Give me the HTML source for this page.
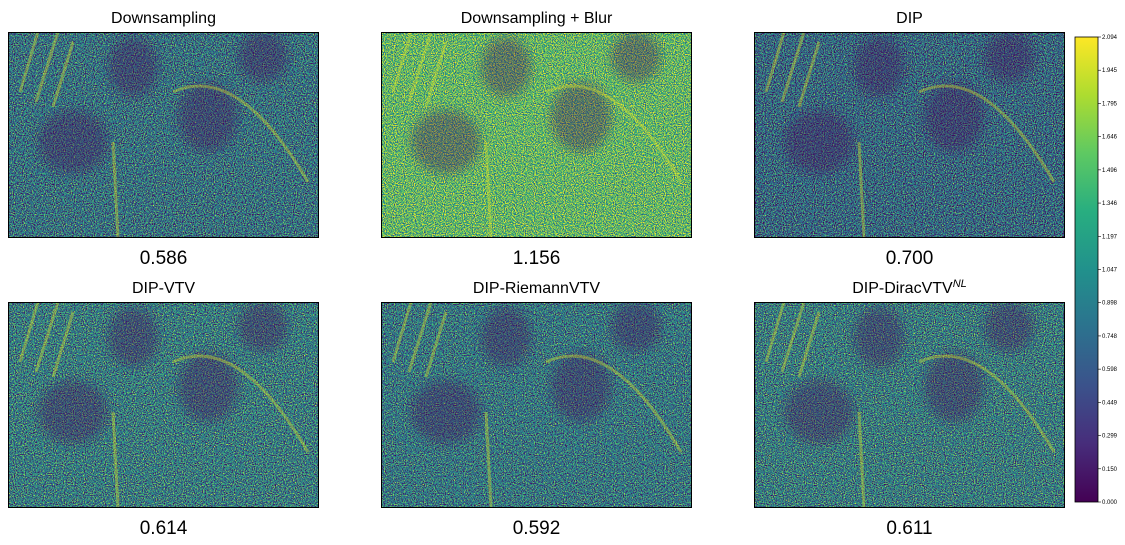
<!DOCTYPE html>
<html><head><meta charset="utf-8"><style>
body{margin:0;background:#fff;width:1125px;height:540px;overflow:hidden;font-family:"Liberation Sans","DejaVu Sans",sans-serif}
</style></head><body>
<svg id="fig" width="1125" height="540" xmlns="http://www.w3.org/2000/svg">
<defs>
<linearGradient id="vir" x1="0" y1="1" x2="0" y2="0">
<stop offset="0" stop-color="#440154"/><stop offset="0.125" stop-color="#472d7b"/><stop offset="0.25" stop-color="#3b528b"/><stop offset="0.375" stop-color="#2c728e"/><stop offset="0.5" stop-color="#21918c"/><stop offset="0.625" stop-color="#28ae80"/><stop offset="0.75" stop-color="#5ec962"/><stop offset="0.875" stop-color="#addc30"/><stop offset="1" stop-color="#fde725"/>
</linearGradient>
<filter id="soft" x="-30%" y="-30%" width="160%" height="160%"><feGaussianBlur stdDeviation="5"/></filter>
</defs>
</svg>
<script>
const titles=["Downsampling","Downsampling + Blur","DIP","DIP-VTV","DIP-RiemannVTV","DIP-DiracVTV"];
const scores=[0.586,1.156,0.700,0.614,0.592,0.611];
const brightness=[-0.12,0.18,-0.16,-0.08,-0.1,-0.08];
const cbTicks=["2.094","1.945","1.795","1.646","1.496","1.346","1.197","1.047","0.898","0.748","0.598","0.449","0.299","0.150","0.000"];
const NS="http://www.w3.org/2000/svg";
const svg=document.getElementById('fig');
const defs=svg.querySelector('defs');
function mk(t,a,p){const e=document.createElementNS(NS,t);for(const k in a)e.setAttribute(k,a[k]);(p||svg).appendChild(e);return e;}
const xs=[8,381,754], ys=[32,302], W=311, H=206;
titles.forEach((t,i)=>{
  const c=i%3,r=Math.floor(i/3),x=xs[c],y=ys[r];
  const f=mk('filter',{id:'f'+i,x:0,y:0,width:1,height:1,'color-interpolation-filters':'sRGB'},defs);
  mk('feTurbulence',{type:'fractalNoise',baseFrequency:'0.9',numOctaves:2,seed:i*7+3},f);
  const g=1.9, o=-0.45+brightness[i];
  mk('feColorMatrix',{type:'matrix',values:`${g} 0 0 0 ${o} ${g} 0 0 0 ${o} ${g} 0 0 0 ${o} 0 0 0 0 1`},f);
  const ct=mk('feComponentTransfer',{},f);
  mk('feFuncR',{type:'table',tableValues:'0.267 0.231 0.129 0.369 0.992'},ct);
  mk('feFuncG',{type:'table',tableValues:'0.004 0.322 0.569 0.788 0.906'},ct);
  mk('feFuncB',{type:'table',tableValues:'0.329 0.545 0.549 0.384 0.145'},ct);
  const img=mk('rect',{x:x,y:y,width:W,height:H,filter:`url(#f${i})`,fill:'#000'});
  
  
  const cp=mk('clipPath',{id:'cp'+i},defs);
  mk('rect',{x:0,y:0,width:W,height:H},cp);
  const gr=mk('g',{'clip-path':`url(#cp${i})`,transform:`translate(${x},${y})`});
  
  
  const dk={fill:'#46085c',opacity:0.35,filter:'url(#soft)'};
  mk('ellipse',Object.assign({cx:65,cy:110,rx:35,ry:32},dk),gr);
  mk('ellipse',Object.assign({cx:200,cy:85,rx:30,ry:35},dk),gr);
  mk('ellipse',Object.assign({cx:125,cy:35,rx:25,ry:30},dk),gr);
  mk('ellipse',Object.assign({cx:255,cy:25,rx:25,ry:25},dk),gr);
  const yl={fill:'none',stroke:'#d8e22a',opacity:0.4,'stroke-width':3};
  mk('path',Object.assign({d:'M165 60 Q230 30 300 150'},yl),gr);
  mk('path',Object.assign({d:'M105 110 L110 206'},yl),gr);
  mk('path',Object.assign({d:'M12 60 L30 0 M28 70 L50 0 M45 75 L65 10'},yl),gr);
  const fr=mk('rect',{x:x+0.5,y:y+0.5,width:W-1,height:H-1,fill:'none',stroke:'#000','stroke-width':1});
  
  
  const tt=mk('text',{x:x+W/2,y:y-9,'text-anchor':'middle','font-size':16,fill:'#000'});
  tt.textContent=t;
  if(i===5){const s=mk('tspan',{'font-size':11,dy:-6,'font-style':'italic'},tt);s.textContent='NL';}
  
  
  const st=mk('text',{x:x+W/2,y:y+H+26,'text-anchor':'middle','font-size':19,fill:'#000'});
  st.textContent=scores[i].toFixed(3);
  
  
});
const cb=mk('rect',{x:1075,y:37,width:23,height:465,fill:'url(#vir)',stroke:'#000','stroke-width':0.8});


const cbTop=37,cbBot=502;
cbTicks.forEach((t,k)=>{
  const y=cbTop+(cbBot-cbTop)*k/(cbTicks.length-1);
  mk('line',{x1:1098,x2:1101,y1:y,y2:y,stroke:'#000','stroke-width':0.6});
  const l=mk('text',{x:1102,y:y+2,'font-size':6,fill:'#000'});
  l.textContent=t;
  
  
});
</script>
</body></html>
